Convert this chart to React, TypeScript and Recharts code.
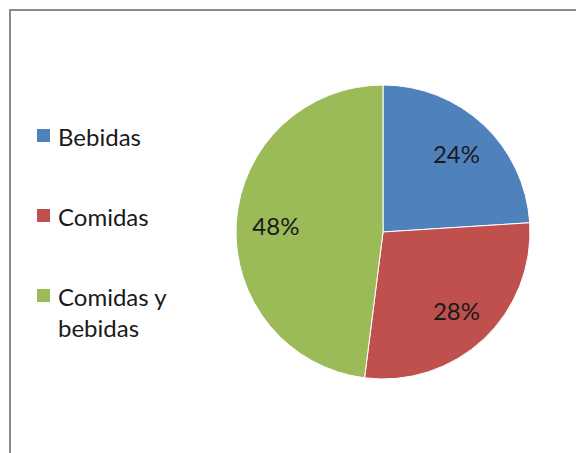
import React from "react";
import { PieChart, Pie, Cell, Legend } from "recharts";

const categories = ["Bebidas", "Comidas", "Comidas y bebidas"];
const values = [24, 28, 48];
const colors = ["#4F81BD", "#C0504D", "#9BBB59"];

const data = categories.map((name, i) => ({ name, value: values[i] }));

const RAD = Math.PI / 180;
const FONT = "Lato, 'Open Sans', sans-serif";

const renderLabel = (props: any) => {
  const { cx, cy, midAngle, outerRadius, percent } = props;
  const r = outerRadius * 0.73;
  const x = cx + r * Math.cos(-midAngle * RAD);
  const y = cy + r * Math.sin(-midAngle * RAD);
  return (
    <text
      x={x}
      y={y}
      fill="#1a1a1a"
      textAnchor="middle"
      dominantBaseline="central"
      fontSize={24}
      fontFamily={FONT}
    >
      {`${Math.round(percent * 100)}%`}
    </text>
  );
};

const renderLegend = () => (
  <div style={{ fontFamily: FONT, fontSize: 24, color: "#1a1a1a" }}>
    {categories.map((c, i) => (
      <div
        key={c}
        style={{ display: "flex", alignItems: "flex-start", height: 80, width: 160 }}
      >
        <div
          style={{
            width: 13,
            height: 13,
            background: colors[i],
            marginTop: 8,
            marginRight: 8,
            flex: "none",
          }}
        />
        <div style={{ lineHeight: "31px", width: 125 }}>{c}</div>
      </div>
    ))}
  </div>
);

export default function App() {
  return (
    <div style={{ position: "absolute", left: 0, top: 0, width: 576, height: 453, background: "#fff", overflow: "hidden" }}>
      <div
        style={{
          position: "absolute",
          left: 9,
          top: 9,
          width: 600,
          height: 500,
          borderLeft: "2px solid #8a8a8a",
          borderTop: "2px solid #8a8a8a",
          boxSizing: "border-box",
        }}
      />
      <PieChart
        width={576}
        height={453}
        margin={{ top: 0, right: 0, bottom: 0, left: 0 }}
        style={{ position: "absolute", left: 0, top: 0 }}
      >
        <Pie
          data={data}
          dataKey="value"
          nameKey="name"
          cx={383}
          cy={232}
          outerRadius={147}
          startAngle={90}
          endAngle={-270}
          stroke="#ffffff"
          strokeWidth={1}
          label={renderLabel}
          labelLine={false}
          isAnimationActive={false}
        >
          {data.map((d, i) => (
            <Cell key={d.name} fill={colors[i]} />
          ))}
        </Pie>
        <Legend
          content={renderLegend}
          wrapperStyle={{ position: "absolute", left: 37, top: 121, width: 170 }}
        />
      </PieChart>
    </div>
  );
}
